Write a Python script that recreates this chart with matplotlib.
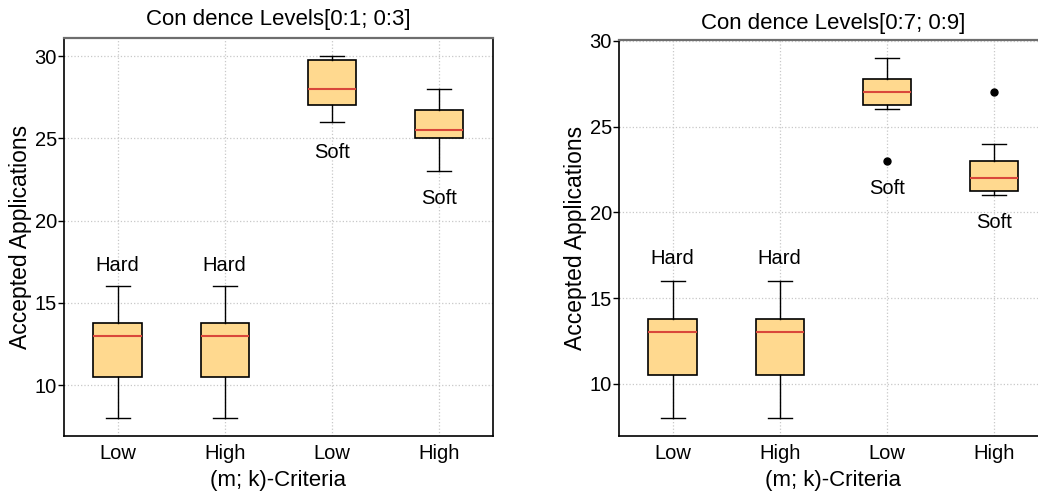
import matplotlib
matplotlib.use("Agg")
import matplotlib.pyplot as plt

plt.rcParams['font.family'] = ['Liberation Sans', 'DejaVu Sans']

# ---- data ----
categories = ["Low", "High", "Low", "High"]
group_labels = ["Hard", "Hard", "Soft", "Soft"]
titles = ["Con dence Levels[0:1; 0:3]", "Con dence Levels[0:7; 0:9]"]

# panel 1 (confidence levels 0.1 - 0.3)
p1_whislo = [8, 8, 26, 23]
p1_q1 = [10.5, 10.5, 27, 25]
p1_med = [13, 13, 28, 25.5]
p1_q3 = [13.75, 13.75, 29.75, 26.75]
p1_whishi = [16, 16, 30, 28]
p1_fliers = [[], [], [], []]
p1_label_gap = [1.25, 1.25, 1.85, 1.65]

# panel 2 (confidence levels 0.7 - 0.9)
p2_whislo = [8, 8, 26, 21]
p2_q1 = [10.5, 10.5, 26.25, 21.25]
p2_med = [13, 13, 27, 22]
p2_q3 = [13.75, 13.75, 27.75, 23]
p2_whishi = [16, 16, 29, 24]
p2_fliers = [[], [], [23], [27]]
p2_label_gap = [1.3, 1.3, 1.6, 1.6]

panels = [
    (p1_whislo, p1_q1, p1_med, p1_q3, p1_whishi, p1_fliers, p1_label_gap),
    (p2_whislo, p2_q1, p2_med, p2_q3, p2_whishi, p2_fliers, p2_label_gap),
]

W, H = 1038, 492
fig = plt.figure(figsize=(W / 100, H / 100), dpi=100)
axes_px = [(64, 436, 428.5, 398), (619, 436, 428.5, 396)]
title_pads = [9, 8]

box_face = "#FFD98F"
med_color = "#D9473A"

for (lo, q1, med, q3, hi, fl, gap), (x0, yb, w, h), title, tpad in zip(
        panels, axes_px, titles, title_pads):
    ax = fig.add_axes([x0 / W, (H - yb) / H, w / W, h / H])
    stats = []
    for i in range(len(categories)):
        stats.append(dict(whislo=lo[i], q1=q1[i], med=med[i], q3=q3[i],
                          whishi=hi[i], fliers=fl[i], label=categories[i]))
    ax.bxp(stats, widths=0.45, patch_artist=True, showfliers=True,
           boxprops=dict(facecolor=box_face, edgecolor="black", linewidth=1.2),
           medianprops=dict(color=med_color, linewidth=1.5),
           whiskerprops=dict(color="black", linewidth=1.0),
           capprops=dict(color="black", linewidth=1.0),
           flierprops=dict(marker="o", markerfacecolor="black",
                           markeredgecolor="black", markersize=5))
    ax.grid(True, linestyle=":", color="#c8c8c8", linewidth=0.9)
    ax.set_axisbelow(True)
    ax.set_title(title, fontsize=16, pad=tpad)
    ax.set_xlabel("(m; k)-Criteria", fontsize=16, labelpad=5)
    ax.set_ylabel("Accepted Applications", fontsize=16.5, labelpad=2)
    ax.set_yticks([10, 15, 20, 25, 30])
    ax.tick_params(axis="both", labelsize=14.5, color="black")
    ax.tick_params(axis="y", length=4, width=1.0, pad=1)
    ax.tick_params(axis="x", length=0, pad=6)
    for s in ("left", "bottom", "right"):
        ax.spines[s].set_color("black")
        ax.spines[s].set_linewidth(1.2)
    ax.spines["top"].set_color("#6e6e6e")
    ax.spines["top"].set_linewidth(1.6)

    # group annotations
    for i, lab in enumerate(group_labels):
        pos = i + 1
        if lab == "Hard":
            y = hi[i] + gap[i]
        else:
            low = min([lo[i]] + list(fl[i]))
            y = low - gap[i]
        ax.text(pos, y, lab, ha="center", va="center", fontsize=14.5)

fig.savefig("out.png", dpi=100)
